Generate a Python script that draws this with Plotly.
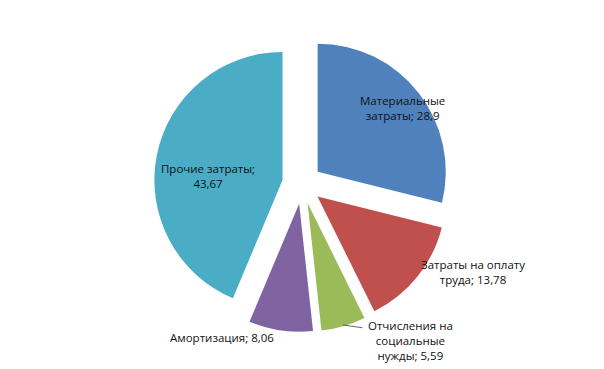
import plotly.graph_objects as go

categories = ["Материальные затраты", "Затраты на оплату труда", "Отчисления на социальные нужды",
              "Амортизация", "Прочие затраты"]
values = [28.9, 13.78, 5.59, 8.06, 43.67]
colors = ["#4F81BD", "#C0504D", "#9BBB59", "#8064A2", "#4BACC6"]

# wrapped display names (line breaks as in the reference)
display_names = ["Материальные<br>затраты", "Затраты на оплату<br>труда", "Отчисления на<br>социальные<br>нужды",
                 "Амортизация", "Прочие затраты;<br>"]

# page body has an 8px margin; figure sized to fit the window
OFF = 8
W, H = 604 - OFF, 369 - OFF

def fx(px):
    return (px - OFF) / W

def fy(py):
    return 1 - (py - OFF) / H

# label centers in window pixels (x, y from top)
label_pos = [(402, 108), (473, 272), (410, 340), (222, 337), (208, 176)]

fig = go.Figure(go.Pie(
    labels=categories, values=values, sort=False, direction="clockwise", rotation=0,
    pull=[0.155] * len(values), textinfo="none", hoverinfo="label+value",
    marker=dict(colors=colors, line=dict(width=0)),
    domain=dict(x=[fx(154), fx(450)], y=[fy(332), fy(36)]),
    showlegend=False,
))

def fmt(v):
    return str(v).replace(".", ",")

for name, v, (px, py) in zip(display_names, values, label_pos):
    if name.endswith("<br>"):
        txt = name + fmt(v)
    else:
        txt = f"{name}; {fmt(v)}"
    fig.add_annotation(x=fx(px), y=fy(py), xref="paper", yref="paper", text=txt,
                       showarrow=False, xanchor="center", yanchor="middle", align="center",
                       font=dict(family="Open Sans", size=11.5, color="#111111"))

# leader line for the small slice label
fig.add_annotation(x=fx(343), y=fy(325), xref="paper", yref="paper", text="",
                   showarrow=True, arrowhead=0, arrowwidth=0.8, arrowcolor="#404040",
                   ax=21, ay=3)

fig.update_layout(width=W, height=H, margin=dict(l=0, r=0, t=0, b=0),
                  paper_bgcolor="white", plot_bgcolor="white")
fig.write_html("out.html")
